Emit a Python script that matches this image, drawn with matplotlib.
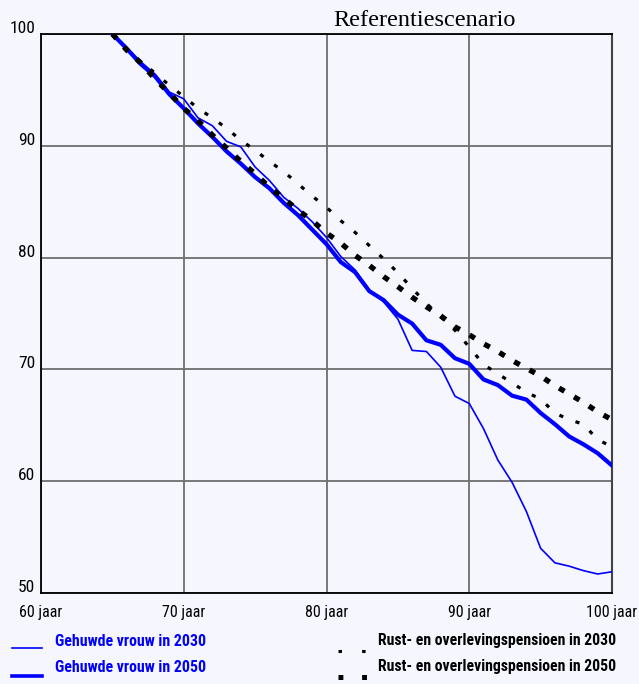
import matplotlib
matplotlib.use("Agg")
import matplotlib.pyplot as plt
from matplotlib.lines import Line2D
from matplotlib.transforms import ScaledTranslation
from matplotlib import font_manager

plt.rcParams['lines.scale_dashes'] = False

names = {f.name for f in font_manager.fontManager.ttflist}


def pick(options, default='Liberation Sans'):
    for o in options:
        if o in names:
            return o
    return default


NARROW = pick(['Liberation Sans Narrow', 'Roboto Condensed', 'Archivo Narrow',
               'Asap Condensed'])
NARROW_B = pick(['Liberation Sans Narrow', 'Roboto Condensed', 'Asap Condensed',
                 'Barlow Semi Condensed'])
SERIF = 'Liberation Serif'

years = list(range(65, 101))
vrouw_2030 = [100, 98.8, 97.5, 96.4, 94.8, 94.2, 92.5, 91.8, 90.4, 89.9,
              88.1, 86.9, 85.4, 84.4, 83.2, 81.8, 80.1, 78.9, 77.1, 76.05,
              74.5, 71.7, 71.6, 70.2, 67.6, 66.95, 64.7, 61.9, 59.9, 57.3,
              54.0, 52.7, 52.4, 52.0, 51.7, 51.9]
vrouw_2050 = [100, 98.7, 97.3, 96.2, 94.6, 93.35, 92.0, 90.8, 89.5, 88.4,
              87.2, 86.2, 84.9, 83.8, 82.5, 81.2, 79.6, 78.7, 77.0, 76.2,
              74.9, 74.1, 72.6, 72.2, 71.0, 70.5, 69.1, 68.6, 67.65, 67.3,
              66.1, 65.1, 64.0, 63.3, 62.5, 61.4]
rust_2030 = [100, 98.6, 97.5, 96.5, 95.4, 94.4, 93.35, 92.5, 91.56, 90.5,
             89.6, 88.6, 87.7, 86.6, 85.5, 84.5, 83.3, 82.26, 81.07, 79.9,
             78.65, 77.25, 75.9, 74.7, 73.5, 72.0, 70.45, 69.6, 68.8, 67.95,
             67.35, 66.1, 65.5, 65.1, 63.7, 63.1]
rust_2050 = [100, 98.57, 97.4, 95.95, 94.7, 93.35, 92.25, 90.97, 89.8, 88.6,
             87.5, 86.3, 85.3, 84.25, 83.3, 82.2, 81.3, 80.2, 79.3, 78.3,
             77.4, 76.45, 75.6, 74.8, 73.8, 73.1, 72.3, 71.6, 70.8, 70.1,
             69.4, 68.55, 67.8, 67.05, 66.2, 65.5]

xticks = [60, 70, 80, 90, 100]
xlabels = ['60 jaar', '70 jaar', '80 jaar', '90 jaar', '100 jaar']
yticks = [50, 60, 70, 80, 90, 100]
ylabels = ['50', '60', '70', '80', '90', '100']

BG = '#F5F6FE'
BLUE = '#0000FF'
W, H = 639, 684
fig = plt.figure(figsize=(W / 100, H / 100), dpi=100, facecolor=BG)
ax = fig.add_axes([41 / W, 1 - 593 / H, (612 - 41) / W, (593 - 34) / H])
ax.set_facecolor(BG)
ax.set_xlim(60, 100)
ax.set_ylim(50, 100)

ax.set_xticks(xticks)
ax.set_xticklabels(xlabels, fontfamily=NARROW, fontsize=11.5)
ax.set_yticks(yticks)
ax.set_yticklabels(ylabels, fontfamily=NARROW, fontsize=12.5)
ax.tick_params(length=0, pad=4)
ax.tick_params(axis='x', pad=9)
for lab in ax.get_yticklabels():
    lab.set_transform(lab.get_transform() + ScaledTranslation(0, 5 / 72, fig.dpi_scale_trans))

ax.grid(True, color='#6e6e6e', linewidth=1.3)
ax.set_axisbelow(True)
for side in ['left', 'bottom', 'top']:
    ax.spines[side].set_color('black')
    ax.spines[side].set_linewidth(1.3)
ax.spines['right'].set_color('#444444')
ax.spines['right'].set_linewidth(1.5)

ax.plot(years, vrouw_2030, color=BLUE, linewidth=1.2, zorder=3)
ax.plot(years, vrouw_2050, color=BLUE, linewidth=3.0, zorder=3)
ax.plot(years, rust_2030, color='black', linewidth=2.3, dashes=(3.0, 9.5),
        dash_capstyle='butt', zorder=4)
ax.plot(years, rust_2050, color='black', linewidth=3.8, dashes=(4.5, 8.0),
        dash_capstyle='butt', zorder=4)

fig.text(333 / W, 1 - 20 / H, 'Referentiescenario', fontfamily=SERIF,
         fontsize=17.5, ha='left', va='center')


def fx(x):
    return x / W


def fy(y):
    return 1 - y / H


# Legend, left part
fig.add_artist(Line2D([fx(12), fx(42)], [fy(648), fy(648)], color=BLUE,
                      linewidth=1.2, transform=fig.transFigure))
fig.add_artist(Line2D([fx(12), fx(42)], [fy(676), fy(676)], color=BLUE,
                      linewidth=2.6, transform=fig.transFigure))
fig.text(fx(55), fy(642), 'Gehuwde vrouw in 2030', color=BLUE, fontfamily=NARROW_B,
         fontweight='bold', fontsize=11.4, ha='left', va='center')
fig.text(fx(55), fy(668), 'Gehuwde vrouw in 2050', color=BLUE, fontfamily=NARROW_B,
         fontweight='bold', fontsize=11.4, ha='left', va='center')

# Legend, right part
fig.add_artist(Line2D([fx(338), fx(366)], [fy(651), fy(651)], color='black',
                      linewidth=2.2, dashes=(2.5, 14.5), dash_capstyle='butt',
                      transform=fig.transFigure))
fig.add_artist(Line2D([fx(338), fx(367)], [fy(677), fy(677)], color='black',
                      linewidth=3.6, dashes=(3.5, 13.5), dash_capstyle='butt',
                      transform=fig.transFigure))
fig.text(fx(378), fy(641), 'Rust- en overlevingspensioen in 2030', color='black',
         fontfamily=NARROW_B, fontweight='bold', fontsize=11.3, ha='left', va='center')
fig.text(fx(378), fy(667), 'Rust- en overlevingspensioen in 2050', color='black',
         fontfamily=NARROW_B, fontweight='bold', fontsize=11.3, ha='left', va='center')

fig.savefig('out.png', dpi=100, facecolor=BG)
